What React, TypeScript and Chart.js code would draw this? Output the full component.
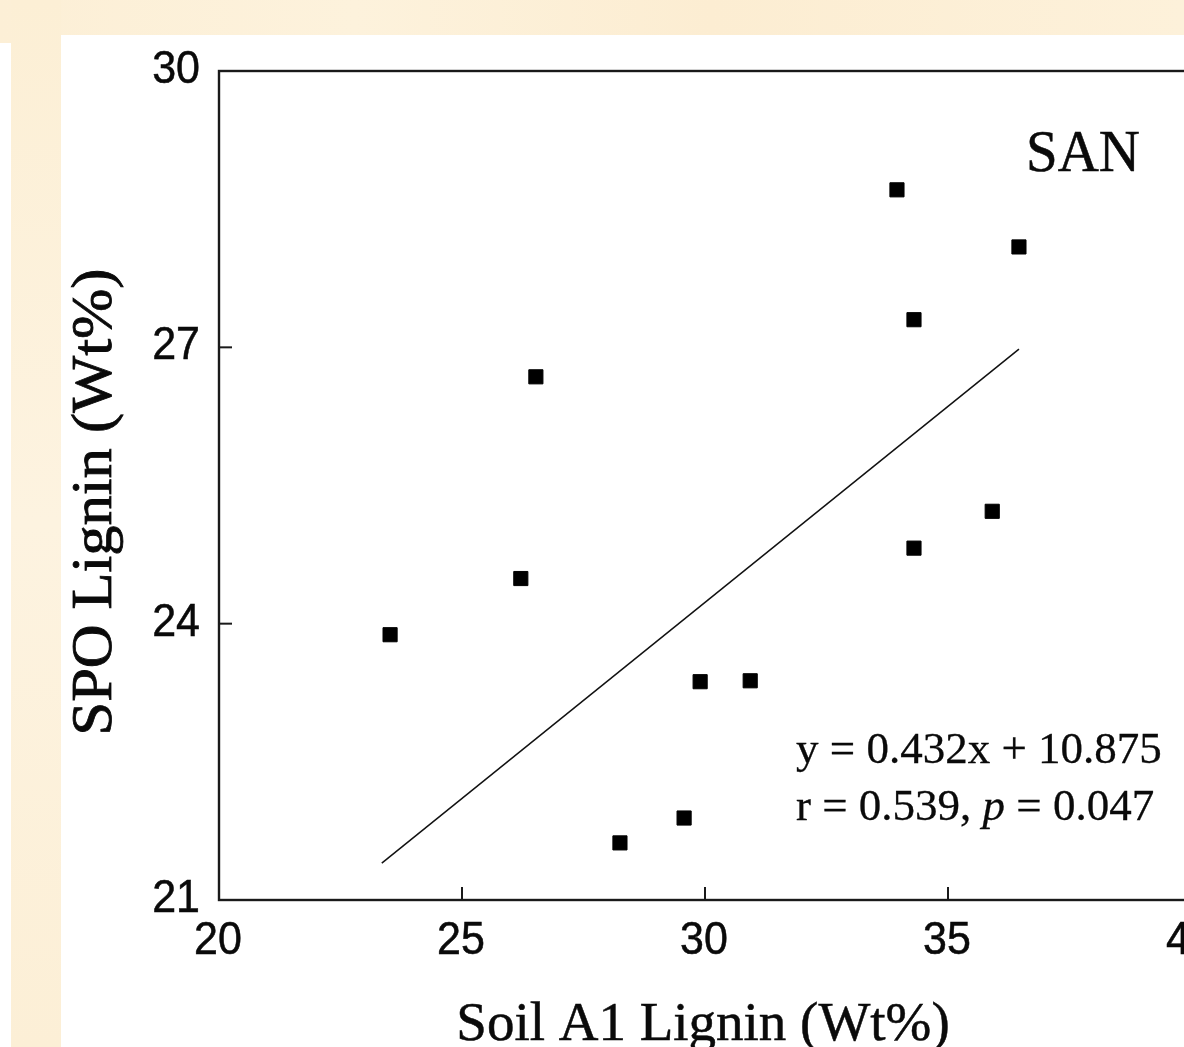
import React, { useEffect, useRef } from "react";
import { Chart, registerables } from "chart.js";

Chart.register(...registerables);

// ---- data ----
const soilA1Lignin = [33.95, 36.46, 34.3, 26.52, 35.91, 34.3, 26.21, 23.52, 29.9, 30.93, 29.57, 28.25];
const spoLignin = [28.71, 28.09, 27.3, 26.68, 25.22, 24.82, 24.49, 23.88, 23.37, 23.38, 21.89, 21.62];
const fitLineX = [23.35, 36.46];
const fitLineY = [21.4, 26.98];
const xTicks = { min: 20, max: 40, step: 5 };
const yTicks = { min: 21, max: 30, step: 3 };
const xTitle = "Soil A1 Lignin (Wt%)";
const yTitle = "SPO Lignin (Wt%)";
const siteLabel = "SAN";
const eqLine1 = "y = 0.432x + 10.875";
const eqLine2a = "r = 0.539, ";
const eqLine2p = "p";
const eqLine2b = " = 0.047";

const SANS = "'Liberation Sans', Arial, sans-serif";
const SERIF = "'Liberation Serif', 'Times New Roman', serif";

function drawText(
  ctx: CanvasRenderingContext2D,
  s: string,
  x: number,
  y: number,
  font: string,
  align: CanvasTextAlign,
  sx = 1,
  sy = 1,
  rot = 0,
  weight = 0.5
) {
  ctx.save();
  ctx.translate(x, y);
  if (rot) ctx.rotate(rot);
  ctx.scale(sx, sy);
  ctx.font = font;
  ctx.textAlign = align;
  ctx.textBaseline = "alphabetic";
  ctx.fillStyle = "#0a0a0a";
  ctx.fillText(s, 0, 0);
  if (weight > 0) {
    ctx.strokeStyle = "#0a0a0a";
    ctx.lineWidth = weight;
    ctx.strokeText(s, 0, 0);
  }
  ctx.restore();
}

const framePlugin = {
  id: "framePlugin",
  afterDatasetsDraw(chart: any) {
    const ctx: CanvasRenderingContext2D = chart.ctx;
    const { left, top, right, bottom } = chart.chartArea;
    const xs = chart.scales.x;
    const ys = chart.scales.y;
    ctx.save();
    // frame
    ctx.strokeStyle = "#1a1a1a";
    ctx.lineWidth = 2.4;
    ctx.strokeRect(left, top, right - left, bottom - top);
    // inward ticks
    ctx.lineWidth = 2;
    const tl = 13;
    xs.ticks.forEach((t: any) => {
      const px = xs.getPixelForValue(t.value);
      if (t.value > xTicks.min && t.value < xTicks.max) {
        ctx.beginPath();
        ctx.moveTo(px, bottom);
        ctx.lineTo(px, bottom - tl);
        ctx.stroke();
      }
      drawText(ctx, String(t.value), px - 1, bottom + 54, `43px ${SANS}`, "center", 1, 1.06);
    });
    ys.ticks.forEach((t: any) => {
      const py = ys.getPixelForValue(t.value);
      if (t.value > yTicks.min && t.value < yTicks.max) {
        ctx.beginPath();
        ctx.moveTo(left, py);
        ctx.lineTo(left + tl, py);
        ctx.stroke();
      }
      drawText(ctx, String(t.value), left - 19, py + 12, `43px ${SANS}`, "right", 1, 1.06);
    });
    // titles
    drawText(ctx, xTitle, 703, 1040, `55px ${SERIF}`, "center");
    drawText(ctx, yTitle, 111, 502, `56px ${SERIF}`, "center", 1.08, 1, -Math.PI / 2, 0.8);
    drawText(ctx, siteLabel, 1026, 171, `57px ${SERIF}`, "left", 1, 1.05);
    // equation
    const ef = `45px ${SERIF}`;
    const efi = `italic 45px ${SERIF}`;
    drawText(ctx, eqLine1, 796, 763, ef, "left", 1, 1, 0, 0.3);
    ctx.font = ef;
    const w1 = ctx.measureText(eqLine2a).width;
    drawText(ctx, eqLine2a, 796, 820, ef, "left", 1, 1, 0, 0.3);
    ctx.font = efi;
    const wp = ctx.measureText(eqLine2p).width;
    drawText(ctx, eqLine2p, 796 + w1, 820, efi, "left", 1, 1, 0, 0.3);
    drawText(ctx, eqLine2b, 796 + w1 + wp, 820, ef, "left", 1, 1, 0, 0.3);
    ctx.restore();
  },
};

const CW = 1300;
const CH = 1100;

export default function App() {
  const ref = useRef<HTMLCanvasElement | null>(null);
  useEffect(() => {
    if (!ref.current) return;
    const points = soilA1Lignin.map((x, i) => ({ x, y: spoLignin[i] }));
    const line = fitLineX.map((x, i) => ({ x, y: fitLineY[i] }));
    const chart = new Chart(ref.current, {
      type: "scatter",
      data: {
        datasets: [
          {
            label: "line",
            type: "line",
            data: line,
            borderColor: "#111",
            borderWidth: 1.5,
            pointRadius: 0,
            fill: false,
          } as any,
          {
            label: "points",
            data: points,
            pointStyle: "rect",
            pointRadius: 10,
            backgroundColor: "#000",
            borderColor: "#000",
            borderWidth: 1,
          },
        ],
      },
      options: {
        responsive: false,
        animation: false,
        devicePixelRatio: 1,
        layout: { padding: { top: 71, right: CW - 1191, left: 0, bottom: 0 } },
        plugins: { legend: { display: false }, tooltip: { enabled: false } },
        scales: {
          x: {
            type: "linear",
            min: xTicks.min,
            max: xTicks.max,
            ticks: { stepSize: xTicks.step, display: false },
            grid: { display: false },
            border: { display: false },
            afterFit: (s: any) => {
              s.height = CH - 900;
            },
          },
          y: {
            type: "linear",
            min: yTicks.min,
            max: yTicks.max,
            ticks: { stepSize: yTicks.step, display: false },
            grid: { display: false },
            border: { display: false },
            afterFit: (s: any) => {
              s.width = 219;
            },
          },
        },
      },
      plugins: [framePlugin],
    });
    return () => chart.destroy();
  }, []);

  return (
    <div
      style={{
        position: "fixed",
        left: 0,
        top: 0,
        width: 1184,
        height: 1047,
        overflow: "hidden",
        background: "linear-gradient(90deg, #fcefd6 0%, #fdf2dc 30%, #fcedd2 60%, #fdf1da 100%)",
      }}
    >
      <div style={{ position: "absolute", left: 0, top: 43, width: 11, height: 1004, background: "#fff" }} />
      <div style={{ position: "absolute", left: 11, top: 0, width: 50, height: 1047, background: "linear-gradient(180deg, #fcefd5, #fdf3e0 50%, #fcefd6)" }} />
      <div style={{ position: "absolute", left: 61, top: 35, width: 1123, height: 1012, background: "#fff" }} />
      <canvas
        ref={ref}
        width={CW}
        height={CH}
        style={{ position: "absolute", left: 0, top: 0, width: CW, height: CH }}
      />
    </div>
  );
}
